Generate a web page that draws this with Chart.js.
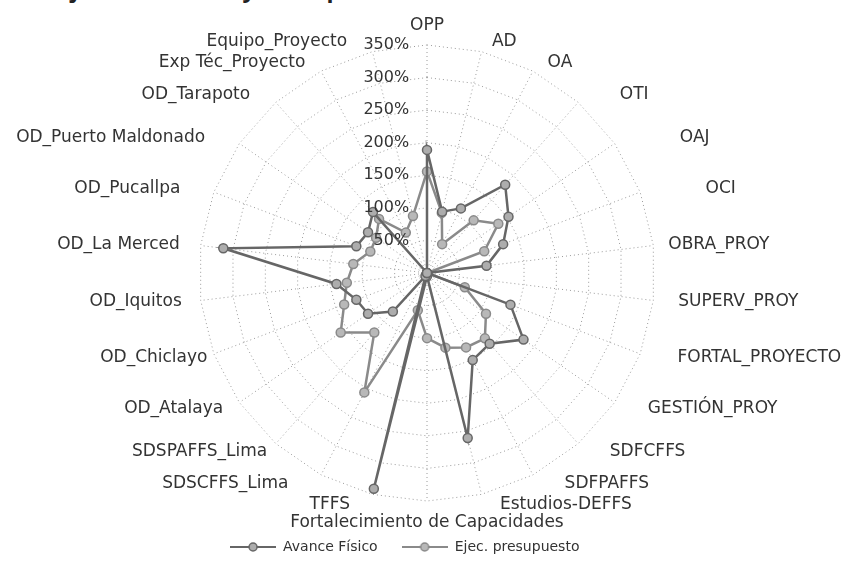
<!DOCTYPE html>
<html>
<head>
<meta charset="utf-8">
<script src="https://cdn.jsdelivr.net/npm/chart.js@4.4.0/dist/chart.umd.min.js"></script>
<style>
html, body { margin: 0; padding: 0; background: #fff; }
#wrap { position: relative; width: 848px; height: 570px; overflow: hidden; }
#title { position: absolute; left: 58px; top: -23px; font: bold 23px "Open Sans"; line-height: 23px; color: #222; white-space: nowrap; }
#myChart { position: absolute; left: 0; top: 0; }
</style>
</head>
<body>
<div id="wrap">
  <div id="title">Ejecución Física y Presupuestal</div>
  <canvas id="myChart" width="848" height="570"></canvas>
</div>
<script>
// categories, clockwise from the top
var labels = ['OPP', 'AD', 'OA', 'OTI', 'OAJ', 'OCI', 'OBRA_PROY', 'SUPERV_PROY',
    'FORTAL_PROYECTO', 'GESTIÓN_PROY', 'SDFCFFS', 'SDFPAFFS', 'Estudios-DEFFS',
    'Fortalecimiento de Capacidades', 'TFFS', 'SDSCFFS_Lima', 'SDSPAFFS_Lima',
    'OD_Atalaya', 'OD_Chiclayo', 'OD_Iquitos', 'OD_La Merced', 'OD_Pucallpa',
    'OD_Puerto Maldonado', 'OD_Tarapoto', 'Exp Téc_Proyecto', 'Equipo_Proyecto'];

// values in %
var avanceFisico = [189, 97, 112, 181, 152, 125, 92, 0, 137, 180, 145, 151, 261,
    5, 341, 5, 79, 110, 116, 140, 315, 116, 110, 125, 0, 0];
var ejecPresupuesto = [156, 95, 50, 108, 133, 94, 0, 0, 62, 110, 134, 129, 118,
    100, 59, 207, 122, 161, 136, 124, 114, 93, 95, 111, 70, 90];

var seriesNames = ['Avance Físico', 'Ejec. presupuesto'];
var tickMax = 350, tickStep = 50;

// styling
var lineColors = ['#666666', '#8a8a8a'];
var fillColors = ['#adadad', '#b8b8b8'];
var labelFont = '17px "DejaVu Sans"';
// extra horizontal gap of each category label (Excel puts them a bit further out)
var labelGap = [0, 8, 10, 35, 57, 56, 5, 15, 28, 25, 25, 27, 16,
    0, 20, 28, 2, 8, -3, 9, 11, 24, 26, 19, 11, 23];

/* tick labels sit left of the vertical axis: pad with trailing spaces */
var meas = document.createElement('canvas').getContext('2d');
meas.font = '16px "DejaVu Sans"';
function padTick(txt) {
    var w = meas.measureText(txt).width;
    var sp = meas.measureText(' ').width;
    return txt + ' '.repeat(Math.round((w + 38) / sp));
}

/* legend icon: short line with a marker in the middle */
function makeIcon(line, fill) {
    var c = document.createElement('canvas');
    c.width = 46; c.height = 12;
    var g = c.getContext('2d');
    g.strokeStyle = line; g.lineWidth = 2;
    g.beginPath(); g.moveTo(0, 6); g.lineTo(46, 6); g.stroke();
    g.fillStyle = fill; g.beginPath(); g.arc(23, 6, 4, 0, Math.PI * 2); g.fill();
    g.lineWidth = 1.5; g.stroke();
    return c;
}
var icons = [makeIcon(lineColors[0], fillColors[0]), makeIcon(lineColors[1], fillColors[1])];

/* category labels drawn at the scale's own point positions */
var categoryLabels = {
    id: 'categoryLabels',
    afterDraw: function (chart) {
        var s = chart.scales.r, ctx = chart.ctx;
        var R = s.drawingArea + 10;
        ctx.save();
        ctx.font = labelFont;
        ctx.fillStyle = '#333';
        ctx.textBaseline = 'middle';
        for (var i = 0; i < labels.length; i++) {
            var p = s.getPointPosition(i, R);
            var sx = p.x - s.xCenter, sy = p.y - s.yCenter;
            var x = p.x, y = p.y;
            if (Math.abs(sx) < 1) {
                ctx.textAlign = 'center';
                y += (sy < 0 ? -9 : 12);
            } else if (sx > 0) {
                ctx.textAlign = 'left';
                x += labelGap[i];
            } else {
                ctx.textAlign = 'right';
                x -= labelGap[i];
            }
            ctx.fillText(labels[i], x, y);
        }
        ctx.restore();
    }
};

const data = {
    labels: labels,
    datasets: [{
        label: seriesNames[0],
        data: avanceFisico,
        borderColor: lineColors[0],
        backgroundColor: 'rgba(0,0,0,0)',
        borderWidth: 2.5,
        pointRadius: 4.5,
        pointBackgroundColor: fillColors[0],
        pointBorderColor: lineColors[0],
        pointBorderWidth: 1.5,
        fill: false
    }, {
        label: seriesNames[1],
        data: ejecPresupuesto,
        borderColor: lineColors[1],
        backgroundColor: 'rgba(0,0,0,0)',
        borderWidth: 2.5,
        pointRadius: 4.5,
        pointBackgroundColor: fillColors[1],
        pointBorderColor: lineColors[1],
        pointBorderWidth: 1.5,
        fill: false
    }]
};

const config = {
    type: 'radar',
    data: data,
    plugins: [categoryLabels],
    options: {
        responsive: false,
        animation: false,
        layout: { padding: { top: 35, bottom: 6, left: 6, right: 0 } },
        elements: { line: { tension: 0 } },
        scales: {
            r: {
                min: 0,
                max: tickMax,
                ticks: {
                    stepSize: tickStep,
                    showLabelBackdrop: false,
                    color: '#333',
                    font: { family: 'DejaVu Sans', size: 16 },
                    z: 1,
                    callback: function (v) { return padTick(v + '%'); }
                },
                grid: { color: '#9a9a9a', lineWidth: 1 },
                border: { dash: [1, 3] },
                angleLines: { color: '#9a9a9a', lineWidth: 1, borderDash: [1, 3] },
                pointLabels: { display: false }
            }
        },
        plugins: {
            legend: {
                position: 'bottom',
                title: { display: true, text: ' ', color: 'rgba(0,0,0,0)', font: { size: 1 }, padding: { top: 3.8, bottom: 0 } },
                labels: {
                    usePointStyle: true,
                    pointStyleWidth: 46,
                    color: '#333',
                    font: { family: 'DejaVu Sans', size: 14 },
                    padding: 24,
                    generateLabels: function (chart) {
                        var items = Chart.defaults.plugins.legend.labels.generateLabels(chart);
                        items.forEach(function (it, i) { it.pointStyle = icons[i]; });
                        // legend row sits a little left of centre in the original
                        items[items.length - 1].text += '          ';
                        return items;
                    }
                }
            },
            tooltip: { enabled: false }
        }
    }
};

const myChart = new Chart(document.getElementById('myChart'), config);
</script>
</body>
</html>
